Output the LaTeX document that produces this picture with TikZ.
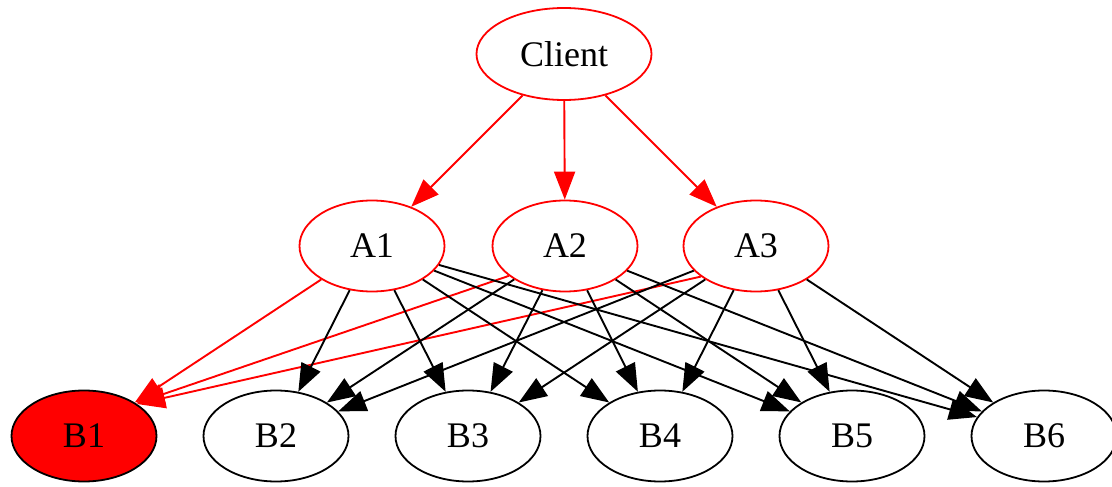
\documentclass[tikz,border=0pt]{standalone}
\usepackage{fontspec}
\setmainfont{Liberation Serif}
\usetikzlibrary{shapes.geometric,arrows.meta}
\definecolor{gvred}{RGB}{255,0,0}
\begin{document}
\begin{tikzpicture}[x=1pt,y=-1pt,
  gvnode/.style={ellipse,draw,line width=1.8pt,minimum width=145pt,minimum height=91pt,
    inner sep=0pt,font=\fontsize{36}{40}\selectfont},
  rednode/.style={gvnode,draw=gvred,fill=white},
  blacknode/.style={gvnode,draw=black,fill=white},
  hotnode/.style={gvnode,draw=black,fill=gvred},
  edge/.style={line width=1.9pt,-{Triangle[length=28pt,width=21pt]}},
  rededge/.style={edge,draw=gvred,fill=gvred},
  blackedge/.style={edge,draw=black}]
\useasboundingbox[fill=white] (0,0) rectangle (1112,487);

% nodes
\node[rednode,minimum width=175pt,minimum height=92pt] (C) at (564,54) {Client};
\node[rednode] (A1) at (372,246) {A1};
\node[rednode] (A2) at (565,246) {A2};
\node[rednode] (A3) at (756,246) {A3};
\node[hotnode] (B1) at (84,436) {B1};
\node[blacknode] (B2) at (276,436) {B2};
\node[blacknode] (B3) at (468,436) {B3};
\node[blacknode] (B4) at (660,436) {B4};
\node[blacknode] (B5) at (852,436) {B5};
\node[blacknode] (B6) at (1044,436) {B6};

% client to first tier
\draw[rededge] (C) -- (A1);
\draw[rededge] (C) -- (A2);
\draw[rededge] (C) -- (A3);

% first tier to B1
\draw[rededge] (A1) -- (B1);
\draw[rededge] (A2.208) -- (B1.32);
\draw[rededge] (A3.209) -- (B1.31);

% first tier to remaining nodes
\foreach \a in {A1,A2,A3}{
  \foreach \b in {B2,B3,B4,B5,B6}{
    \draw[blackedge] (\a) -- (\b);
  }
}
\end{tikzpicture}
\end{document}
